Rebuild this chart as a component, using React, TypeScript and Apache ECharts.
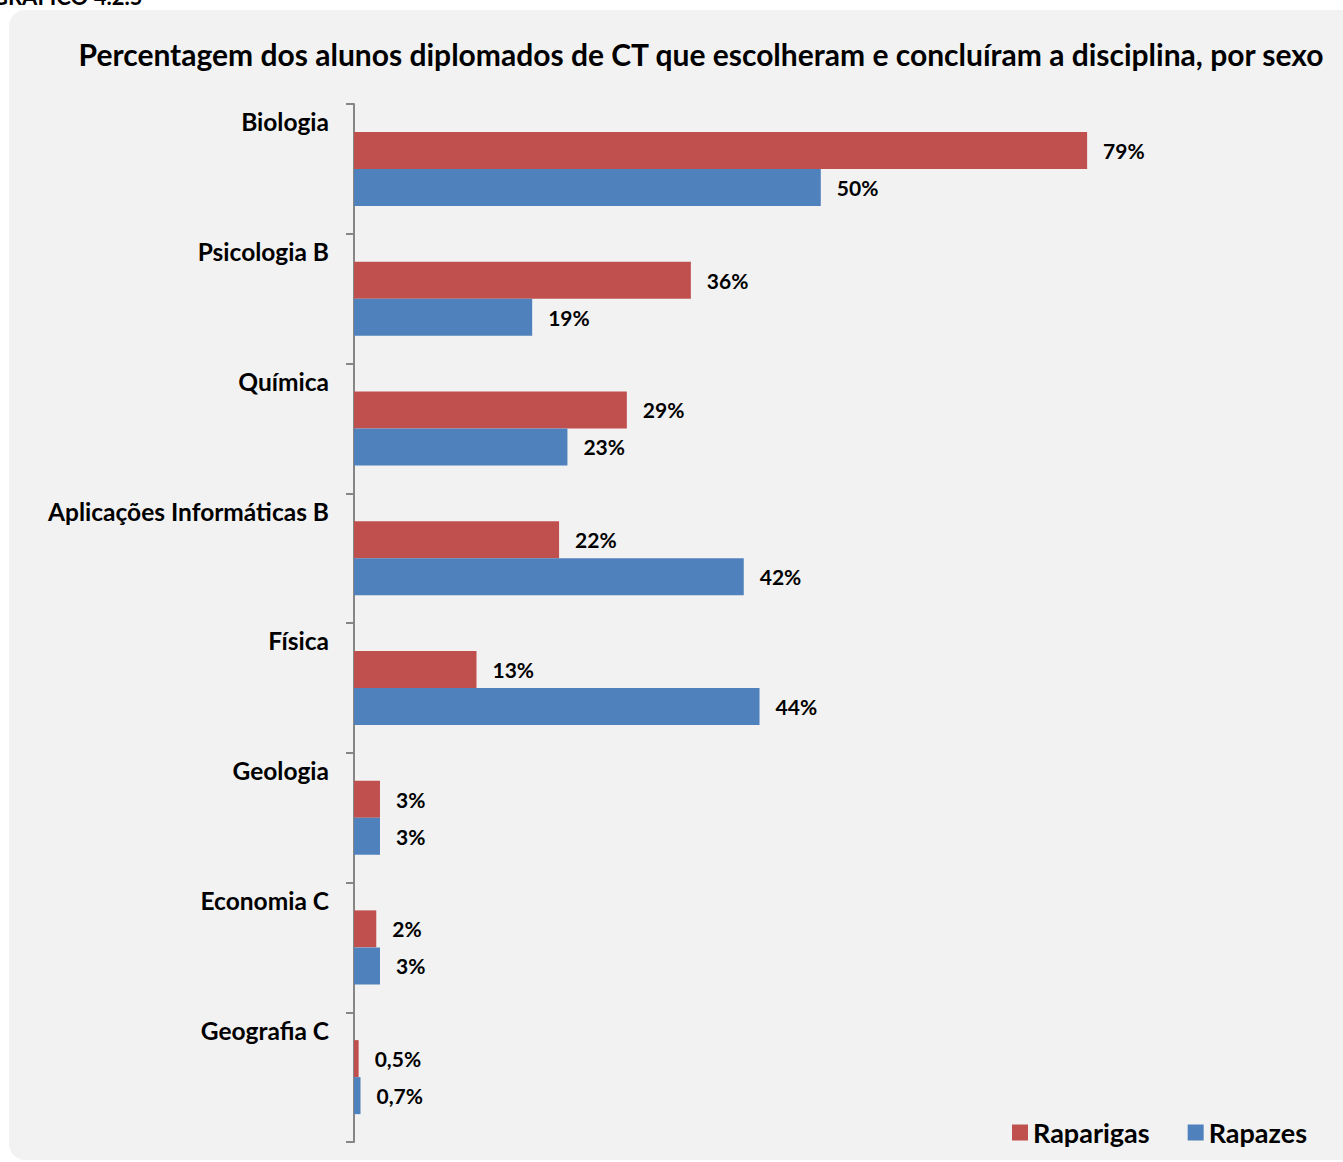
import React, { useEffect, useRef } from "react";
import * as echarts from "echarts";

const categories = [
  "Biologia",
  "Psicologia B",
  "Química",
  "Aplicações Informáticas B",
  "Física",
  "Geologia",
  "Economia C",
  "Geografia C",
];
const raparigas = [79, 36.3, 29.4, 22.1, 13.2, 2.8, 2.4, 0.5];
const rapazes = [50.3, 19.2, 23, 42, 43.7, 2.8, 2.8, 0.7];
const raparigasLabels = ["79%", "36%", "29%", "22%", "13%", "3%", "2%", "0,5%"];
const rapazesLabels = ["50%", "19%", "23%", "42%", "44%", "3%", "3%", "0,7%"];

const FONT = "Lato, 'Open Sans', sans-serif";

export default function App() {
  const ref = useRef<HTMLDivElement>(null);
  useEffect(() => {
    document.body.style.margin = "0";
    const chart = echarts.init(ref.current!, null, { renderer: "svg" });
    const labelStyle = {
      show: true,
      position: "right",
      distance: 16,
      fontSize: 21,
      fontWeight: "bold",
      color: "#000",
      fontFamily: FONT,
    };
    chart.setOption({
      animation: false,
      backgroundColor: "#ffffff",
      textStyle: { fontFamily: FONT },
      graphic: [
        {
          type: "rect",
          shape: { x: 9, y: 10, width: 1360, height: 1150, r: 16 },
          style: { fill: "#f2f2f2" },
          z: -10,
        },
        {
          type: "text",
          x: -8,
          y: -15,
          style: {
            text: "GRÁFICO 4.2.5",
            font: `bold 22px ${FONT}`,
            fill: "#000",
          },
        },
      ],
      title: {
        text: "Percentagem dos alunos diplomados de CT que escolheram e concluíram a disciplina, por sexo",
        left: 696,
        textAlign: "center",
        top: 34,
        textStyle: { fontSize: 30, fontWeight: "bold", color: "#000", fontFamily: FONT },
      },
      legend: {
        right: 31,
        top: 1114,
        itemWidth: 16,
        itemHeight: 16,
        itemGap: 38,
        icon: "rect",
        textStyle: { fontSize: 27, fontWeight: "bold", color: "#000", fontFamily: FONT },
        data: ["Raparigas", "Rapazes"],
      },
      grid: { left: 354, top: 104, width: 928, height: 1038, containLabel: false },
      xAxis: {
        type: "value",
        min: 0,
        max: 100,
        show: false,
      },
      yAxis: {
        type: "category",
        data: categories,
        inverse: true,
        axisLine: { show: true, lineStyle: { color: "#868686", width: 2 } },
        axisTick: { show: true, length: 8, lineStyle: { color: "#868686", width: 2 } },
        axisLabel: {
          color: "#000",
          margin: 25,
          formatter: (v: string) => `{a|${v}}\n{b|}`,
          rich: {
            a: { fontSize: 24.5, fontWeight: "bold", color: "#000", fontFamily: FONT, lineHeight: 28, align: "right" },
            b: { height: 94, lineHeight: 94 },
          },
        },
        splitLine: { show: false },
      },
      series: [
        {
          name: "Raparigas",
          type: "bar",
          data: raparigas,
          barWidth: 37,
          barGap: "0%",
          itemStyle: { color: "#c0504d" },
          label: { ...labelStyle, formatter: (p: any) => raparigasLabels[p.dataIndex] },
        },
        {
          name: "Rapazes",
          type: "bar",
          data: rapazes,
          barWidth: 37,
          barGap: "0%",
          itemStyle: { color: "#4f81bd" },
          label: { ...labelStyle, formatter: (p: any) => rapazesLabels[p.dataIndex] },
        },
      ],
    });
    return () => chart.dispose();
  }, []);
  return <div ref={ref} style={{ width: 1343, height: 1162 }} />;
}
